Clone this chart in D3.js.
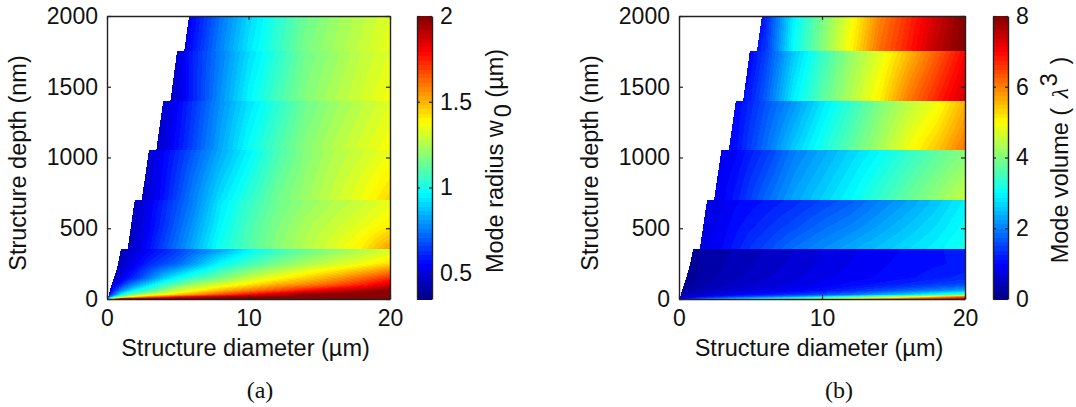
<!DOCTYPE html>
<html><head><meta charset="utf-8">
<script src="https://cdn.jsdelivr.net/npm/d3@7/dist/d3.min.js"></script>
<style>
html,body{margin:0;padding:0;background:#fff;overflow:hidden}
svg{display:block}
text{font-family:"Liberation Sans",Arial,sans-serif;fill:#111}
.cap{font-family:"Liberation Serif",serif;font-size:24px}
</style></head><body>
<svg id="c" width="1076" height="407"></svg>
<script>
// Diameter columns (um) shared by all the value rows
const diameters=[0,0.5,1,1.5,2,3,4,5,6,8,10,12,14,16,18,20];
// Depth bands (nm), each listing the depths where a row of values is given
const bandDepths=[[2000,1750],[1750,1400],[1400,1050],[1050,700],[700,525,350],[350,250,150,100,60,30,15,0]];
// Left boundary of the filled region
const edgeBands=[[2000,1750],[1750,1400],[1400,1050],[1050,700],[700,350],[350,300,250,200,150,100,60,30,0]];
const edgeDiam=[[5.8,5.45],[4.95,4.48],[3.97,3.48],[2.96,2.45],[1.96,1.45],[0.97,0.88,0.78,0.65,0.5,0.33,0.2,0.12,0.05]];

// Panel (a): mode radius (um)
const radiusB1=[
[.42,.42,.42,.42,.42,.42,.42,.42,.55,.74,.9,1.03,1.14,1.21,1.27,1.33],
[.42,.42,.42,.42,.42,.42,.42,.45,.58,.77,.93,1.05,1.165,1.23,1.29,1.35]];
const radiusB2=[
[.42,.42,.42,.42,.42,.42,.42,.5,.6,.76,.91,1.03,1.15,1.21,1.28,1.33],
[.42,.42,.42,.42,.42,.42,.43,.5,.6,.79,.96,1.08,1.18,1.25,1.31,1.37]];
const radiusB3=[
[.42,.42,.42,.42,.42,.42,.48,.55,.63,.79,.92,1.03,1.14,1.21,1.27,1.33],
[.42,.42,.42,.42,.42,.43,.5,.58,.66,.83,.98,1.09,1.19,1.26,1.32,1.38]];
const radiusB4=[
[.42,.42,.42,.42,.42,.48,.55,.62,.69,.83,.95,1.08,1.18,1.25,1.3,1.35],
[.42,.42,.42,.42,.43,.5,.58,.67,.76,.92,1.04,1.15,1.22,1.29,1.36,1.45]];
const radiusB5=[
[.42,.42,.42,.42,.46,.53,.61,.68,.75,.93,1.05,1.14,1.2,1.25,1.29,1.34],
[.42,.42,.42,.43,.47,.55,.63,.71,.79,.96,1.08,1.17,1.24,1.29,1.34,1.4],
[.42,.42,.42,.45,.49,.58,.67,.75,.83,1.0,1.1,1.19,1.26,1.33,1.41,1.55]];
const radiusB6=[
[.42,.42,.45,.47,.5,.55,.6,.65,.71,.82,.95,1.05,1.13,1.19,1.25,1.3],
[.4,.42,.46,.5,.54,.62,.67,.72,.8,.97,1.07,1.16,1.24,1.3,1.36,1.44],
[.38,.45,.52,.58,.63,.75,.88,.97,1.05,1.16,1.28,1.37,1.45,1.53,1.62,1.72],
[.38,.52,.62,.72,.8,.93,1.05,1.14,1.22,1.33,1.42,1.52,1.58,1.66,1.75,1.87],
[.4,.62,.78,.88,.97,1.08,1.2,1.3,1.36,1.5,1.59,1.68,1.78,1.87,1.94,2],
[.45,.75,.97,1.1,1.2,1.3,1.38,1.47,1.55,1.68,1.8,1.9,2,2,2,2],
[.55,1,1.2,1.35,1.45,1.6,1.7,1.8,1.85,1.95,2,2,2,2,2,2],
[1,1.6,2,2,2,2,2,2,2,2,2,2,2,2,2,2]];

// Panel (b): mode volume (lambda^3)
const volumeB1=[
[1,1,1,1,1,1,1,1,1.2,2.9,3.93,4.85,5.95,6.65,7.35,8],
[1,1,1,1,1,1,1,1,1.35,3.05,4.03,5.05,6.15,6.8,7.55,8]];
const volumeB2=[
[1,1,1,1,1,1,1,1,1.45,2.55,3.4,4.15,4.75,5.5,6.25,7],
[.95,.95,.95,.95,.95,.95,.95,1.25,1.7,2.9,3.7,4.4,5.1,6.05,6.75,7.4]];
const volumeB3=[
[1,1,1,1,1,1,1,1.3,1.6,2.15,2.8,3.35,3.97,4.45,4.85,5.6],
[1,1,1,1,1,1,1.1,1.5,1.85,2.6,3.18,3.75,4.3,4.9,5.45,6.1]];
const volumeB4=[
[.85,.85,.85,.85,.85,.85,.97,1.2,1.4,1.95,2.3,2.65,2.98,3.35,3.7,4],
[.9,.9,.9,.9,.9,.95,1.2,1.5,1.8,2.3,2.65,3,3.4,3.8,4.15,4.55]];
const volumeB5=[
[.7,.7,.7,.7,.75,.85,.97,1.05,1.13,1.3,1.5,1.7,1.98,2.25,2.55,2.9],
[.7,.7,.72,.75,.8,.92,1.08,1.2,1.32,1.55,1.8,2.0,2.25,2.5,2.75,3.05],
[.7,.7,.75,.8,.87,1,1.2,1.4,1.55,1.9,2.13,2.35,2.55,2.75,2.95,3.2]];
const volumeB6=[
[.15,.15,.2,.25,.3,.35,.4,.45,.5,.62,.75,.85,.95,1.02,1.1,1.2],
[.15,.15,.2,.25,.3,.36,.42,.48,.54,.66,.78,.88,.97,1.05,1.1,1.17],
[.15,.17,.22,.27,.32,.4,.47,.53,.6,.72,.84,.93,1.02,1.1,1.2,1.3],
[.15,.2,.27,.33,.38,.47,.55,.62,.68,.8,.93,1.05,1.17,1.3,1.45,1.6],
[.2,.27,.35,.42,.48,.58,.66,.74,.8,.95,1.1,1.3,1.55,1.8,2.05,2.35],
[.25,.4,.5,.6,.68,.8,.95,1.05,1.15,1.35,1.6,1.9,2.3,2.7,3.2,3.7],
[.4,.7,.85,1,1.1,1.3,1.5,1.7,1.9,2.3,2.9,3.5,4.2,4.9,5.7,6.5],
[.8,1.2,1.5,1.8,2,2.4,2.8,3.1,3.4,4,4.7,5.3,5.8,6.3,6.8,7.2]];

const xTicks=[0,10,20], yTicks=[0,500,1000,1500,2000];
const radiusTicks=[0.5,1,1.5,2], volumeTicks=[0,2,4,6,8];
const radiusDomain=[0.35,2], volumeDomain=[0,8];

const jetStops=[0,.125,.375,.625,.875,1];
const jetColors=["#000080","#0000ff","#00ffff","#ffff00","#ff0000","#800000"];
const jet=d3.scaleLinear().domain(jetStops).range(jetColors).interpolate(d3.interpolateRgb);
const LEVELS=64;

const svg=d3.select("#c");
const ink="#222";
const TICK=23, LABEL=23.5;

function panel(o){
  const H=283, bottom=o.top+H;
  const x=d3.scaleLinear().domain([0,20]).range([o.left,o.left+o.w]);
  const y=d3.scaleLinear().domain([0,2000]).range([bottom,o.top]);
  const g=svg.append("g");
  const level=v=>Math.max(0,Math.min(LEVELS-1,Math.floor((v-o.domain[0])/(o.domain[1]-o.domain[0])*LEVELS)));
  const colorOf=i=>jet((i+.5)/LEVELS);
  const cells=[];
  for(let py=o.top;py<bottom;py++){
    const z=y.invert(py+.5);
    let b=bandDepths.findIndex(r=>z<=r[0]&&z>=r[r.length-1]);
    if(b<0) b=z>1000?0:bandDepths.length-1;
    const depths=bandDepths[b], rows=o.bands[b];
    const edge=d3.scaleLinear().domain(edgeBands[b]).range(edgeDiam[b])(z);
    const rowScales=diameters.map((_,c)=>d3.scaleLinear().domain(depths).range(rows.map(r=>r[c]))(z));
    const across=d3.scaleLinear().domain(diameters).range(rowScales);
    let run=null;
    for(let px=o.left;px<o.left+o.w;px++){
      const d=x.invert(px+.5);
      if(d<edge) continue;
      const l=level(across(d));
      if(run&&run.l===l) run.x1=px+1;
      else{ run={l,x0:px,x1:px+1,y:py}; cells.push(run); }
    }
  }
  g.append("g").attr("shape-rendering","crispEdges").selectAll("rect").data(cells).join("rect")
    .attr("x",c=>c.x0).attr("y",c=>c.y).attr("width",c=>c.x1-c.x0).attr("height",1.3)
    .attr("fill",c=>colorOf(c.l));
  const style=s=>{s.select(".domain").attr("stroke",ink).attr("stroke-width",1.4);
    s.selectAll(".tick line").attr("stroke",ink).attr("stroke-width",1.2);
    s.selectAll("text").attr("font-size",TICK).attr("fill","#111").style("font-family",'"Liberation Sans",Arial,sans-serif');};
  const fmt=d3.format("d");
  g.append("g").attr("transform",`translate(0,${bottom})`)
    .call(d3.axisBottom(x).tickValues(xTicks).tickFormat(fmt).tickSizeInner(-4).tickSizeOuter(0).tickPadding(11)).call(style);
  g.append("g").attr("transform",`translate(0,${o.top})`)
    .call(d3.axisTop(x).tickValues(xTicks).tickFormat("").tickSizeInner(-4).tickSizeOuter(0)).call(style);
  g.append("g").attr("transform",`translate(${o.left},0)`)
    .call(d3.axisLeft(y).tickValues(yTicks).tickFormat(fmt).tickSizeInner(-4).tickSizeOuter(0).tickPadding(9)).call(style);
  g.append("g").attr("transform",`translate(${o.left+o.w},0)`)
    .call(d3.axisRight(y).tickValues(yTicks).tickFormat("").tickSizeInner(-4).tickSizeOuter(0)).call(style);
  g.append("text").attr("x",o.left+o.w/2-3).attr("y",356).attr("text-anchor","middle")
    .attr("font-size",LABEL).text("Structure diameter (µm)");
  g.append("text").attr("transform",`translate(${o.left-81},163) rotate(-90)`).attr("text-anchor","middle")
    .attr("font-size",LABEL).text("Structure depth (nm)");
  g.append("text").attr("class","cap").attr("x",o.capX).attr("y",398).attr("text-anchor","middle").text(o.cap);

  // colour bar
  const c=d3.scaleLinear().domain(o.domain).range([bottom,o.top]);
  const levels=d3.range(LEVELS);
  const step=(o.domain[1]-o.domain[0])/LEVELS;
  g.append("g").attr("shape-rendering","crispEdges").selectAll("rect").data(levels).join("rect")
    .attr("x",o.barX).attr("width",o.barW)
    .attr("y",i=>c(o.domain[0]+(i+1)*step)).attr("height",i=>c(o.domain[0]+i*step)-c(o.domain[0]+(i+1)*step)+.5)
    .attr("fill",colorOf);
  g.append("g").attr("transform",`translate(${o.barX+o.barW},0)`)
    .call(d3.axisRight(c).tickValues(o.ticks).tickFormat(d3.format("")).tickSizeInner(-3).tickSizeOuter(0).tickPadding(8)).call(style);
  g.append("g").attr("transform",`translate(${o.barX},0)`)
    .call(d3.axisLeft(c).tickValues(o.ticks).tickFormat("").tickSizeInner(-3).tickSizeOuter(0)).call(style);
  o.label(g);
}

panel({left:107,top:16,w:283,domain:radiusDomain,bands:[radiusB1,radiusB2,radiusB3,radiusB4,radiusB5,radiusB6],
  ticks:radiusTicks,barX:417,barW:15,cap:"(a)",capX:260,
  label:g=>{const t=g.append("text").attr("transform","translate(503,161) rotate(-90)").attr("text-anchor","middle").attr("font-size",LABEL);
    t.append("tspan").text("Mode radius w");
    t.append("tspan").attr("dy",8).attr("dx",3).text("0");
    t.append("tspan").attr("dy",-8).text(" (µm)");}});
panel({left:679,top:16,w:286,domain:volumeDomain,bands:[volumeB1,volumeB2,volumeB3,volumeB4,volumeB5,volumeB6],
  ticks:volumeTicks,barX:993,barW:15,cap:"(b)",capX:839,
  label:g=>{const t=g.append("text").attr("transform","translate(1068,160) rotate(-90)").attr("text-anchor","middle").attr("font-size",LABEL);
    t.append("tspan").text("Mode volume ( ");
    t.append("tspan").attr("dx",3).attr("font-style","italic").style("font-family",'"Liberation Serif",serif').text("λ");
    t.append("tspan").attr("dy",-11).attr("font-size",LABEL).attr("dx",2).text("3");
    t.append("tspan").attr("dy",11).attr("dx",2).text(" )");}});
</script>
</body></html>
